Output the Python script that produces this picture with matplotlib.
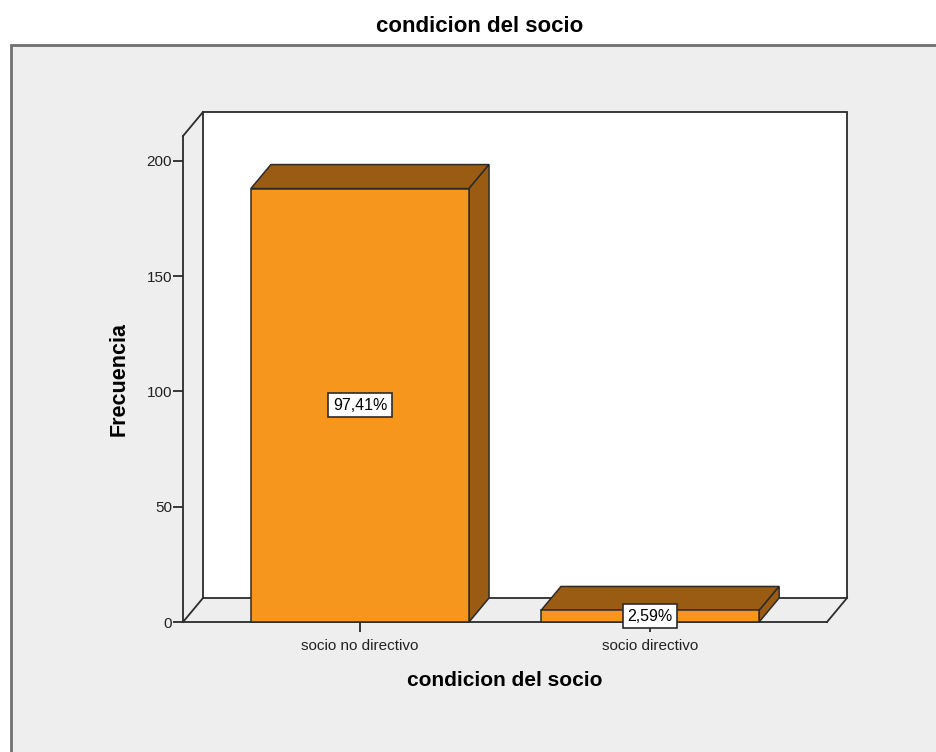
import matplotlib.pyplot as plt
from matplotlib.patches import Polygon, Rectangle

# datos
categorias = ["socio no directivo", "socio directivo"]
frecuencias = [188, 5]
porcentajes = ["97,41%", "2,59%"]
yticks = [0, 50, 100, 150, 200]

plt.rcParams['font.family'] = ['Liberation Sans', 'DejaVu Sans']

naranja = "#F7961D"
marron = "#9A5B12"
borde = "#2b2b2b"

fig = plt.figure(figsize=(9.36, 7.52), dpi=100)
fig.patch.set_facecolor("white")

# panel gris
fig.add_artist(Rectangle((11 / 936, -0.01), 1.0, (752 - 45) / 752 + 0.01,
                         transform=fig.transFigure, facecolor="#eeeeee",
                         edgecolor="#707070", lw=2, zorder=0))

ax = fig.add_axes([183 / 936, 130 / 752, 644 / 936, 486 / 752])
ax.patch.set_alpha(0)
for s in ax.spines.values():
    s.set_visible(False)

xmin, xmax = -0.61, 1.61
ymax = 210.8
ax.set_xlim(xmin, xmax)
ax.set_ylim(0, ymax)

# profundidad 3D en unidades de datos
dx = 20 / 290
dy = 24 / 2.305
ancho = 0.752

kw = dict(clip_on=False, lw=1.3, color=borde)
# pared del fondo
ax.add_patch(Rectangle((xmin + dx, dy), xmax - xmin, ymax, facecolor="white",
                       edgecolor=borde, lw=1.3, clip_on=False, zorder=1))
# suelo y pared izquierda
ax.plot([xmin, xmax], [0, 0], **kw)
ax.plot([xmax, xmax + dx], [0, dy], **kw)
ax.plot([xmin, xmin + dx], [0, dy], **kw)
ax.plot([xmin, xmin], [0, ymax], **kw)
ax.plot([xmin, xmin + dx], [ymax, ymax + dy], **kw)

# barras 3D
for i, (v, p) in enumerate(zip(frecuencias, porcentajes)):
    x0, x1 = i - ancho / 2, i + ancho / 2
    ax.add_patch(Polygon([(x0, v), (x0 + dx, v + dy), (x1 + dx, v + dy), (x1, v)],
                         closed=True, facecolor=marron, edgecolor=borde,
                         lw=1.1, clip_on=False, zorder=3))
    ax.add_patch(Polygon([(x1, 0), (x1, v), (x1 + dx, v + dy), (x1 + dx, dy)],
                         closed=True, facecolor=marron, edgecolor=borde,
                         lw=1.1, clip_on=False, zorder=3))
    ax.add_patch(Rectangle((x0, 0), ancho, v, facecolor=naranja,
                           edgecolor=borde, lw=1.1, clip_on=False, zorder=4))
    ax.text(i, v / 2, p, ha="center", va="center", fontsize=11.5, zorder=6,
            bbox=dict(boxstyle="square,pad=0.28", facecolor="white",
                      edgecolor=borde, lw=1.2))

ax.set_yticks(yticks)
ax.set_yticklabels([str(t) for t in yticks], fontsize=11, color="#222222")
ax.set_xticks(range(len(categorias)))
ax.set_xticklabels(categorias, fontsize=11, color="#222222")
ax.tick_params(axis="y", length=7, width=1.3, color=borde, pad=1)
ax.tick_params(axis="x", length=7, width=1.3, color=borde, pad=5)

ax.set_xlabel("condicion del socio", fontsize=15, fontweight="bold",
              labelpad=13)
ax.set_ylabel("Frecuencia", fontsize=15.5, fontweight="bold", labelpad=12)

fig.text(480 / 936, 1 - 27 / 752, "condicion del socio", ha="center",
         va="center", fontsize=16, fontweight="bold")

fig.savefig("out.png", dpi=100)
